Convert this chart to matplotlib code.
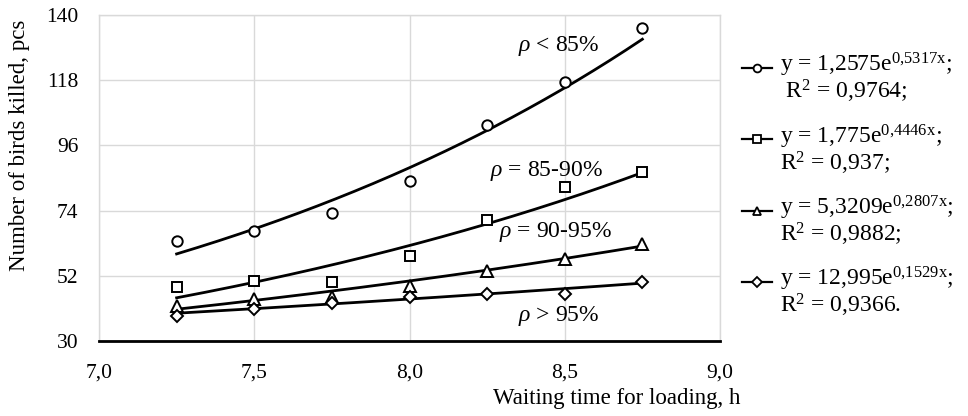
import numpy as np
import matplotlib
matplotlib.use("Agg")
import matplotlib.pyplot as plt
from matplotlib.lines import Line2D
from matplotlib.legend_handler import HandlerLine2D

plt.rcParams['font.family'] = ['Liberation Serif', 'DejaVu Serif']
plt.rcParams['mathtext.fontset'] = 'custom'
plt.rcParams['mathtext.rm'] = 'Liberation Serif'
plt.rcParams['mathtext.it'] = 'Liberation Serif:italic'
plt.rcParams['mathtext.bf'] = 'Liberation Serif:bold'

# ---- data ----
hours = [7.25, 7.5, 7.75, 8.0, 8.25, 8.5, 8.75]
birds_lt85 = [63.6, 67.2, 73.1, 84.0, 102.9, 117.3, 135.6]
birds_85_90 = [48.1, 50.4, 50.0, 58.8, 70.9, 81.9, 87.1]
birds_90_95 = [41.7, 44.1, 45.0, 48.6, 53.7, 57.6, 62.7]
birds_gt95 = [38.3, 40.8, 42.8, 45.0, 45.8, 45.8, 49.9]

# exponential trendline coefficients y = a*e^(b*x)
coef_a = [1.2575, 1.775, 5.3209, 12.995]
coef_b = [0.5317, 0.4446, 0.2807, 0.1529]

legend_labels = [
    "y = 1,2575e$^{\\mathrm{0{,}5317x}}$;\n R$^2$ = 0,9764;",
    "y = 1,775e$^{\\mathrm{0{,}4446x}}$;\nR$^2$ = 0,937;",
    "y = 5,3209e$^{\\mathrm{0{,}2807x}}$;\nR$^2$ = 0,9882;",
    "y = 12,995e$^{\\mathrm{0{,}1529x}}$;\nR$^2$ = 0,9366.",
]
curve_labels = ["$\\rho$ < 85%", "$\\rho$ = 85-90%", "$\\rho$ = 90-95%", "$\\rho$ > 95%"]
curve_label_pos = [(8.48, 129.5), (8.44, 87.3), (8.47, 66.8), (8.48, 38.3)]

x_ticks = [7.0, 7.5, 8.0, 8.5, 9.0]
x_ticklabels = ["7,0", "7,5", "8,0", "8,5", "9,0"]
y_ticks = [30, 52, 74, 96, 118, 140]

series = [birds_lt85, birds_85_90, birds_90_95, birds_gt95]
markers = ['o', 's', '^', 'D']
msizes = [7.5, 7.5, 8.5, 6.5]


class FirstLineHandler(HandlerLine2D):
    """Place the legend handle next to the first line of a two-line label."""
    def __init__(self, dy=0.0, **kw):
        super().__init__(**kw)
        self.dy = dy

    def create_artists(self, legend, orig_handle, xdescent, ydescent,
                       width, height, fontsize, trans):
        arts = super().create_artists(legend, orig_handle, xdescent, ydescent,
                                      width, height, fontsize, trans)
        for a in arts:
            a.set_ydata(np.asarray(a.get_ydata()) + self.dy * fontsize)
        return arts


fig = plt.figure(figsize=(9.68, 4.16), dpi=100)
ax = fig.add_axes([99 / 968, 1 - 341 / 416, (720 - 99) / 968, (341 - 15) / 416])

x_fit = np.linspace(hours[0], hours[-1], 200)
handles = []
for vals, a, b, m, ms, lab in zip(series, coef_a, coef_b, markers, msizes, legend_labels):
    ax.plot(x_fit, a * np.exp(b * x_fit), color='black', lw=2.0, zorder=3)
    ax.plot(hours, vals, linestyle='none', marker=m, markersize=ms,
            markerfacecolor='white', markeredgecolor='black', markeredgewidth=1.4, zorder=4)
    handles.append(Line2D([0], [0], color='black', lw=1.6, marker=m,
                          markersize=ms * 0.75, markerfacecolor='white',
                          markeredgecolor='black', markeredgewidth=1.3, label=lab))

for txt, (px, py) in zip(curve_labels, curve_label_pos):
    ax.text(px, py, txt, fontsize=17, ha='center', va='center', zorder=5)

ax.set_xlim(7.0, 9.0)
ax.set_ylim(30, 140)
ax.set_xticks(x_ticks)
ax.set_xticklabels(x_ticklabels)
ax.set_yticks(y_ticks)
ax.tick_params(axis='both', length=0, labelsize=15.5, colors='black')
ax.tick_params(axis='x', pad=16)
ax.tick_params(axis='y', pad=15)

ax.grid(True, color='#d9d9d9', lw=1.0, zorder=0)
ax.set_axisbelow(True)
for s in ['left', 'top', 'right']:
    ax.spines[s].set_color('#d9d9d9')
    ax.spines[s].set_linewidth(1.0)
ax.spines['bottom'].set_color('black')
ax.spines['bottom'].set_linewidth(2.0)
ax.spines['bottom'].set_zorder(6)

ax.set_xlabel("Waiting time for loading, h", fontsize=16.5)
ax.xaxis.set_label_coords((617 - 99) / 621, (341 - 388) / 326)
ax.set_ylabel("Number of birds killed, pcs", fontsize=16.5)
ax.yaxis.label.set_verticalalignment('center')
ax.yaxis.set_label_coords((20 - 99) / 621, (341 - 145) / 326)

leg = fig.legend(handles=handles, loc='upper left', bbox_to_anchor=(742 / 968, 1 - 51 / 416),
                 frameon=False, fontsize=17, handlelength=1.25, handletextpad=0.35,
                 labelspacing=0.72, borderpad=0, borderaxespad=0,
                 handler_map={h: FirstLineHandler(dy=0.42) for h in handles})
for t in leg.get_texts():
    t.set_linespacing(0.95)

fig.savefig("out.png", dpi=100)
